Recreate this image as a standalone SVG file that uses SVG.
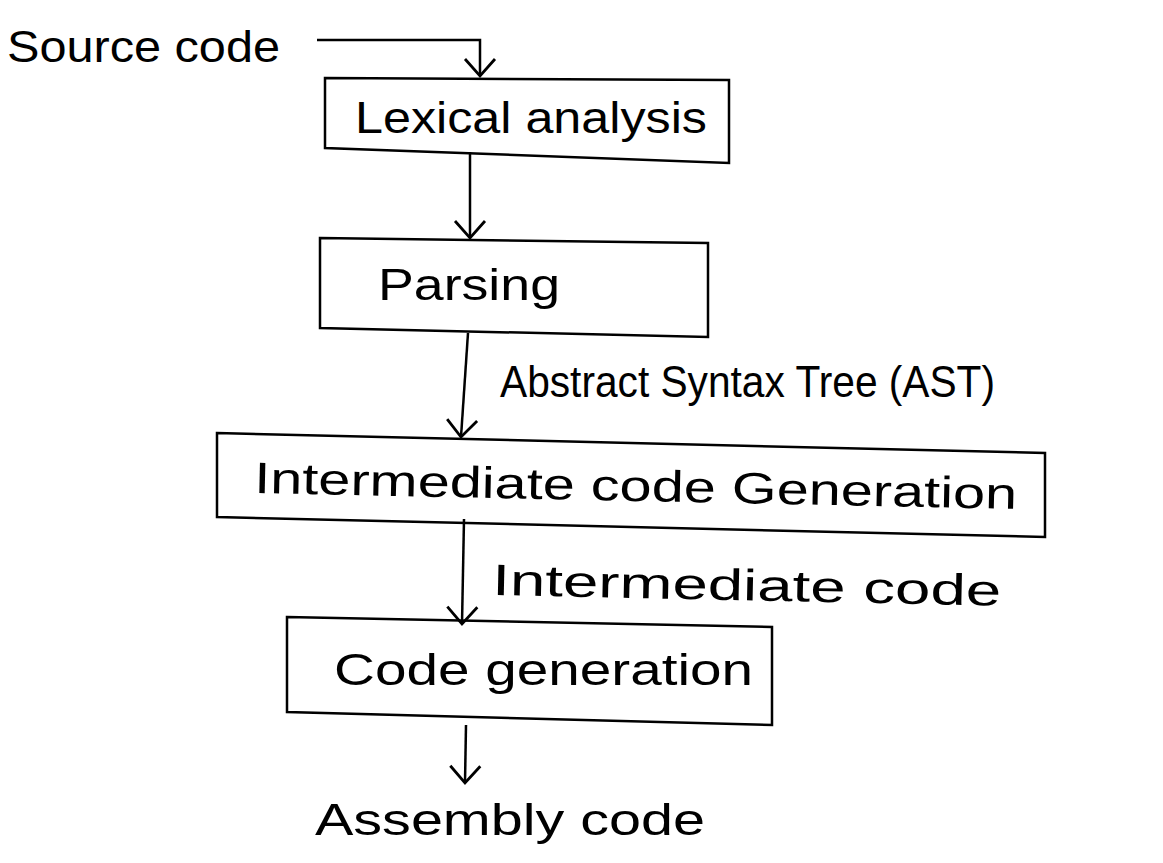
<svg xmlns="http://www.w3.org/2000/svg" width="1163" height="863" viewBox="0 0 1163 863">
<style>
.box{fill:none;stroke:#000;stroke-width:2.5;stroke-linejoin:miter}
.lbl{font-family:"Liberation Sans",Arial,sans-serif;font-size:44px;fill:#000}
.conn{fill:none;stroke:#000;stroke-width:2.5}
</style>
<defs>
<marker id="arr" viewBox="0 0 24 34" markerWidth="24" markerHeight="34" refX="20" refY="17" orient="auto" markerUnits="userSpaceOnUse">
<path d="M3,2 L20,17 L3,32" fill="none" stroke="#000" stroke-width="2.8"/>
</marker>
</defs>
<rect width="1163" height="863" fill="#fff"/>
<g id="source">
<text class="lbl" x="7" y="62" textLength="273" lengthAdjust="spacingAndGlyphs">Source code</text>
</g>
<g id="lexical">
<polygon class="box" points="325,78 729,80 729,163 325,148"/>
<text class="lbl" x="355" y="133" textLength="352" lengthAdjust="spacingAndGlyphs">Lexical analysis</text>
</g>
<g id="parsing">
<polygon class="box" points="320,238 708,243 708,337 320,328"/>
<text class="lbl" x="378" y="300" textLength="182" lengthAdjust="spacingAndGlyphs">Parsing</text>
</g>
<g id="intermediate">
<polygon class="box" points="217,433 1045,453 1045,537 217,517"/>
<text class="lbl" x="254" y="493" textLength="763" lengthAdjust="spacingAndGlyphs" transform="rotate(1.2 254 493)">Intermediate code Generation</text>
</g>
<g id="codegen">
<polygon class="box" points="287,617 772,627 772,725 287,712"/>
<text class="lbl" x="334" y="685" textLength="419" lengthAdjust="spacingAndGlyphs">Code generation</text>
</g>
<g id="assembly">
<text class="lbl" x="315" y="835" textLength="390" lengthAdjust="spacingAndGlyphs">Assembly code</text>
</g>
<g id="connectors">
<path class="conn" d="M317,40 L480,40 L480,76" marker-end="url(#arr)"/>
<path class="conn" d="M470,152 L470,238" marker-end="url(#arr)"/>
<path class="conn" d="M468,333 L461,437" marker-end="url(#arr)"/>
<path class="conn" d="M464,519 L462,624" marker-end="url(#arr)"/>
<path class="conn" d="M466,725 L465,783" marker-end="url(#arr)"/>
<text class="lbl" x="500" y="397" textLength="495" lengthAdjust="spacingAndGlyphs">Abstract Syntax Tree (AST)</text>
<text class="lbl" x="492" y="595" textLength="509" lengthAdjust="spacingAndGlyphs" transform="rotate(1.2 492 595)">Intermediate code</text>
</g>
</svg>
